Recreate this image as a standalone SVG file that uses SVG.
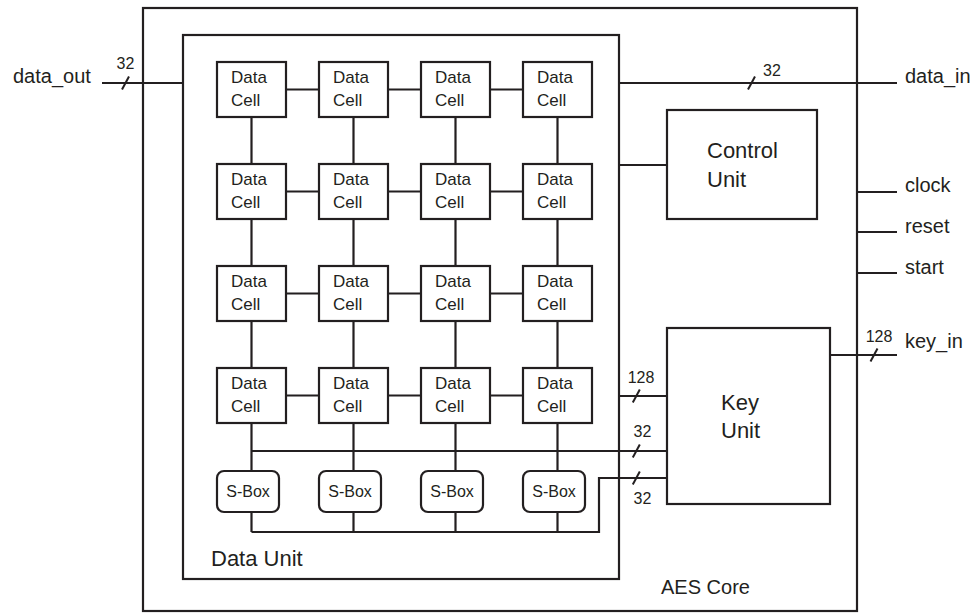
<svg xmlns="http://www.w3.org/2000/svg" width="978" height="615" viewBox="0 0 978 615">
<style>
.box{fill:#fff;stroke:#231f20;stroke-width:2.2}
.ln{fill:none;stroke:#231f20;stroke-width:2.2}
.sl{stroke:#231f20;stroke-width:2}
text{font-family:"Liberation Sans",Arial,sans-serif;fill:#231f20}
.c{font-size:17px}
.s{font-size:16px;text-anchor:middle}
.b{font-size:22px}
.p{font-size:20px}
.n{font-size:16px;text-anchor:middle}
</style>
<defs>
<line id="slash" x1="-3.5" y1="6.5" x2="3.5" y2="-6.5" class="sl"/>
</defs>
<rect id="aes-core" class="box" x="143" y="8" width="714" height="603"/>
<g id="data-unit">
<rect class="box" x="183" y="35" width="436" height="544"/>
<text class="b" x="211" y="566">Data Unit</text>
</g>
<text class="p" x="661" y="594">AES Core</text>
<g id="connectors">
<!-- horizontal between cells -->
<path class="ln" d="M286,89.5H319M388,89.5H421M490,89.5H523M286,191.5H319M388,191.5H421M490,191.5H523M286,293.5H319M388,293.5H421M490,293.5H523M286,395.5H319M388,395.5H421M490,395.5H523"/>
<!-- vertical between cells -->
<path class="ln" d="M251.5,117V164M353.5,117V164M455.5,117V164M557.5,117V164M251.5,219V266M353.5,219V266M455.5,219V266M557.5,219V266M251.5,321V368M353.5,321V368M455.5,321V368M557.5,321V368"/>
<!-- cells to sboxes -->
<path class="ln" d="M251.5,423V471M353.5,423V471M455.5,423V471M557.5,423V471"/>
<path class="ln" d="M251.5,451H667"/>
<path class="ln" d="M251.5,512V532M353.5,512V532M455.5,512V532M557.5,512V532"/>
<path class="ln" d="M251.5,532H599V478H667"/>
<path class="ln" d="M619,396H667"/>
<path class="ln" d="M619,165H667"/>
<path class="ln" d="M619,83H897"/>
<path class="ln" d="M102,83H183"/>
<path class="ln" d="M830,355H897"/>
<path class="ln" d="M857,192H897M857,232H897M857,273H897"/>
<use href="#slash" x="125.5" y="83"/>
<use href="#slash" x="751.5" y="83"/>
<use href="#slash" x="874" y="355"/>
<use href="#slash" x="636.3" y="396"/>
<use href="#slash" x="636.3" y="451"/>
<use href="#slash" x="636.3" y="478"/>
<text class="n" x="125.5" y="69">32</text>
<text class="n" x="772" y="75.5">32</text>
<text class="n" x="879" y="341.5">128</text>
<text class="n" x="641" y="383">128</text>
<text class="n" x="642.5" y="436.5">32</text>
<text class="n" x="642.5" y="504">32</text>
</g>
<g id="cell-1-1"><rect class="box" x="217" y="62" width="69" height="55"/><text class="c" x="231" y="83">Data</text><text class="c" x="231" y="106">Cell</text></g>
<g id="cell-1-2"><rect class="box" x="319" y="62" width="69" height="55"/><text class="c" x="333" y="83">Data</text><text class="c" x="333" y="106">Cell</text></g>
<g id="cell-1-3"><rect class="box" x="421" y="62" width="69" height="55"/><text class="c" x="435" y="83">Data</text><text class="c" x="435" y="106">Cell</text></g>
<g id="cell-1-4"><rect class="box" x="523" y="62" width="69" height="55"/><text class="c" x="537" y="83">Data</text><text class="c" x="537" y="106">Cell</text></g>
<g id="cell-2-1"><rect class="box" x="217" y="164" width="69" height="55"/><text class="c" x="231" y="185">Data</text><text class="c" x="231" y="208">Cell</text></g>
<g id="cell-2-2"><rect class="box" x="319" y="164" width="69" height="55"/><text class="c" x="333" y="185">Data</text><text class="c" x="333" y="208">Cell</text></g>
<g id="cell-2-3"><rect class="box" x="421" y="164" width="69" height="55"/><text class="c" x="435" y="185">Data</text><text class="c" x="435" y="208">Cell</text></g>
<g id="cell-2-4"><rect class="box" x="523" y="164" width="69" height="55"/><text class="c" x="537" y="185">Data</text><text class="c" x="537" y="208">Cell</text></g>
<g id="cell-3-1"><rect class="box" x="217" y="266" width="69" height="55"/><text class="c" x="231" y="287">Data</text><text class="c" x="231" y="310">Cell</text></g>
<g id="cell-3-2"><rect class="box" x="319" y="266" width="69" height="55"/><text class="c" x="333" y="287">Data</text><text class="c" x="333" y="310">Cell</text></g>
<g id="cell-3-3"><rect class="box" x="421" y="266" width="69" height="55"/><text class="c" x="435" y="287">Data</text><text class="c" x="435" y="310">Cell</text></g>
<g id="cell-3-4"><rect class="box" x="523" y="266" width="69" height="55"/><text class="c" x="537" y="287">Data</text><text class="c" x="537" y="310">Cell</text></g>
<g id="cell-4-1"><rect class="box" x="217" y="368" width="69" height="55"/><text class="c" x="231" y="389">Data</text><text class="c" x="231" y="412">Cell</text></g>
<g id="cell-4-2"><rect class="box" x="319" y="368" width="69" height="55"/><text class="c" x="333" y="389">Data</text><text class="c" x="333" y="412">Cell</text></g>
<g id="cell-4-3"><rect class="box" x="421" y="368" width="69" height="55"/><text class="c" x="435" y="389">Data</text><text class="c" x="435" y="412">Cell</text></g>
<g id="cell-4-4"><rect class="box" x="523" y="368" width="69" height="55"/><text class="c" x="537" y="389">Data</text><text class="c" x="537" y="412">Cell</text></g>
<g id="sbox-1"><rect class="box" x="217" y="471" width="62" height="41" rx="7"/><text class="s" x="248" y="497">S-Box</text></g>
<g id="sbox-2"><rect class="box" x="319" y="471" width="62" height="41" rx="7"/><text class="s" x="350" y="497">S-Box</text></g>
<g id="sbox-3"><rect class="box" x="421" y="471" width="62" height="41" rx="7"/><text class="s" x="452" y="497">S-Box</text></g>
<g id="sbox-4"><rect class="box" x="523" y="471" width="62" height="41" rx="7"/><text class="s" x="554" y="497">S-Box</text></g>
<g id="control-unit"><rect class="box" x="667" y="110" width="150" height="109"/><text class="b" x="707" y="158">Control</text><text class="b" x="707" y="187">Unit</text></g>
<g id="key-unit"><rect class="box" x="667" y="328" width="163" height="176"/><text class="b" x="721" y="410">Key</text><text class="b" x="721" y="438">Unit</text></g>
<g id="data-out"><text class="p" x="13" y="83">data_out</text></g>
<g id="data-in"><text class="p" x="905" y="83">data_in</text></g>
<g id="clock"><text class="p" x="905" y="192">clock</text></g>
<g id="reset"><text class="p" x="905" y="233">reset</text></g>
<g id="start"><text class="p" x="905" y="274">start</text></g>
<g id="key-in"><text class="p" x="905" y="348">key_in</text></g>
</svg>
